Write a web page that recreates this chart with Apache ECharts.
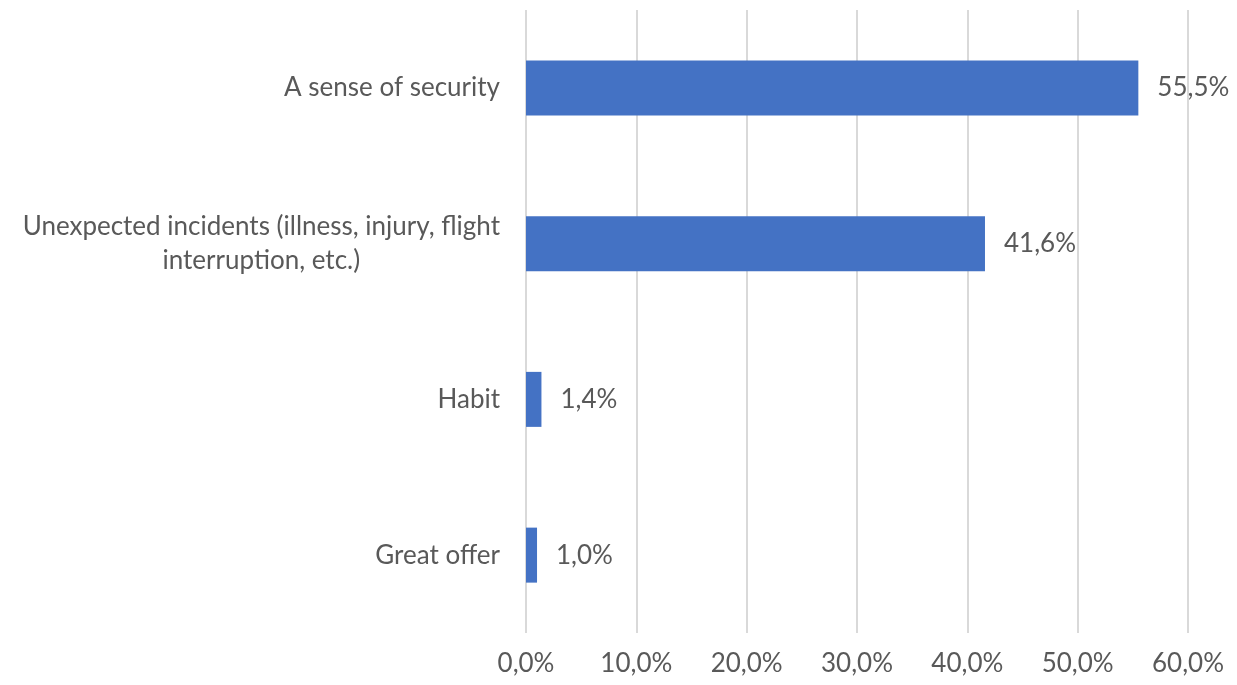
<!DOCTYPE html>
<html>
<head>
<meta charset="utf-8">
<script src="https://cdn.jsdelivr.net/npm/echarts@6/dist/echarts.min.js"></script>
<style>html,body{margin:0;padding:0;background:#fff}#c{width:1237px;height:685px}</style>
</head>
<body>
<div id="c"></div>
<script>
var categories = ['A sense of security', 'Unexpected incidents (illness, injury, flight\ninterruption, etc.)', 'Habit', 'Great offer'];
var values = [55.5, 41.6, 1.4, 1.0];
var xTicks = [0, 10, 20, 30, 40, 50, 60];

var FS = 26;
var fmt = function (v) { return v.toFixed(1).replace('.', ',') + '%'; };
var chart = echarts.init(document.getElementById('c'));
chart.setOption({
  animation: false,
  grid: { left: 526, right: 49, top: 10, bottom: 52 },
  xAxis: {
    type: 'value', min: xTicks[0], max: xTicks[xTicks.length - 1], interval: 10,
    axisLine: { show: false }, axisTick: { show: false },
    splitLine: { show: true, lineStyle: { color: '#d9d9d9', width: 2 } },
    axisLabel: { formatter: fmt, color: '#595959', fontFamily: 'Lato', fontSize: FS, margin: 18 }
  },
  yAxis: {
    type: 'category', inverse: true, data: categories,
    axisLine: { show: false }, axisTick: { show: false },
    axisLabel: {
      color: '#595959', fontFamily: 'Lato', fontSize: FS, margin: 26, lineHeight: 34,
      formatter: function (v) {
        return v.split('\n').map(function (s) { return '{c|' + s + '}'; }).join('\n');
      },
      rich: { c: { align: 'center', color: '#595959', fontFamily: 'Lato', fontSize: FS, lineHeight: 34 } }
    }
  },
  series: [{
    type: 'bar', data: values, barWidth: 55,
    itemStyle: { color: '#4472C4' },
    label: { show: true, position: 'right', distance: 19, color: '#595959', fontFamily: 'Lato', fontSize: FS,
      formatter: function (p) { return fmt(p.value); } }
  }]
});
</script>
</body>
</html>
